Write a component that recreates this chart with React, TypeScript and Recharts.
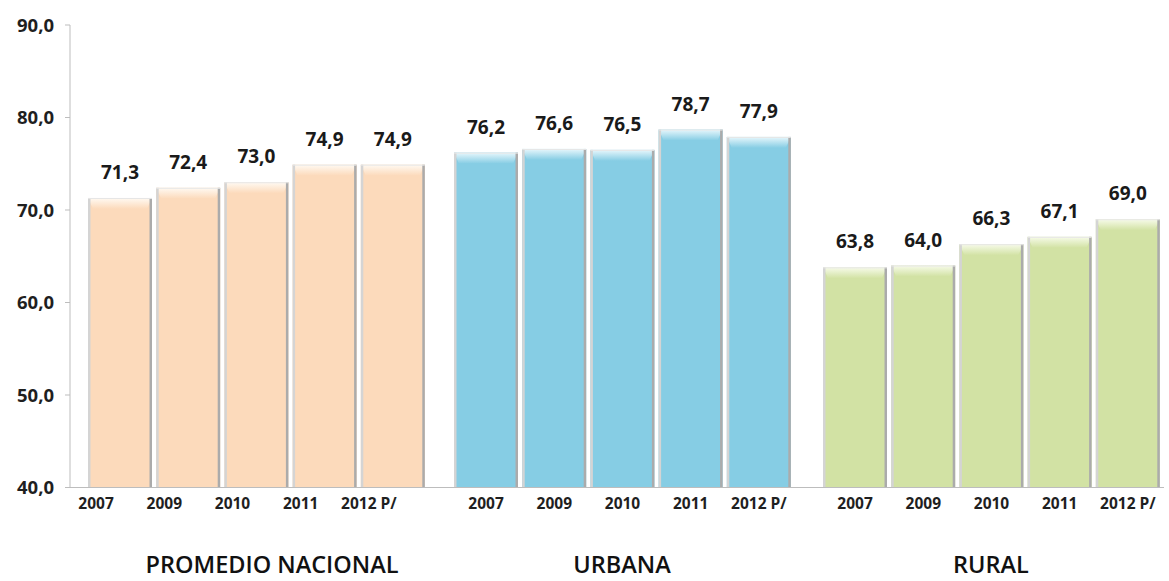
import React from "react";
import { BarChart, Bar, XAxis, YAxis, LabelList } from "recharts";

const categories = ["2007", "2009", "2010", "2011", "2012 P/"];
const nacional = [71.3, 72.4, 73.0, 74.9, 74.9];
const urbana = [76.2, 76.6, 76.5, 78.7, 77.9];
const rural = [63.8, 64.0, 66.3, 67.1, 69.0];
const yTicks = [40, 50, 60, 70, 80, 90];
const groupLabels = ["PROMEDIO NACIONAL", "URBANA", "RURAL"];

const FONT = "'Open Sans', 'DejaVu Sans', sans-serif";
const fmt = (v: number) => v.toFixed(1).replace(".", ",");

const toData = (vals: number[]) => categories.map((c, i) => ({ year: c, value: vals[i] }));

const makeShape = (id: string, color: string, light: string) => (props: any) => {
  const { x, y, width, height, index } = props;
  if (width == null || height == null || height <= 0) return null;
  const bev = Math.min(11, height);
  const gid = `bev-${id}-${index}`;
  return (
    <g>
      <defs>
        <linearGradient id={gid} x1="0" y1="0" x2="0" y2="1">
          <stop offset="0%" stopColor={light} stopOpacity={1} />
          <stop offset="100%" stopColor={color} stopOpacity={1} />
        </linearGradient>
      </defs>
      <rect x={x} y={y} width={width} height={height} fill={color} />
      <polygon
        points={`${x},${y} ${x + width},${y} ${x + width - 5},${y + bev} ${x + 5},${y + bev}`}
        fill={`url(#${gid})`}
      />
      <rect x={x} y={y} width={2.5} height={height} fill="#d4d4d4" />
      <rect x={x + width - 2.5} y={y} width={2.5} height={height} fill="#ababab" />
      <rect x={x} y={y} width={width} height={1} fill="#e6e6e6" />
    </g>
  );
};

const YearTick = (props: any) => {
  const { x, y, payload, dx } = props;
  return (
    <text
      x={x + (dx || 0)}
      y={y}
      dy={13}
      textAnchor="middle"
      fontFamily={FONT}
      fontWeight={700}
      fontSize={15.5}
      fill="#1f1f1f"
    >
      {payload.value}
    </text>
  );
};

type GroupProps = {
  id: string;
  left: number;
  width: number;
  vals: number[];
  color: string;
  light: string;
  showY: boolean;
  padL: number;
  padR: number;
  tickDx: number;
};

const Group = ({ id, left, width, vals, color, light, showY, padL, padR, tickDx }: GroupProps) => {
  const data = toData(vals);
  return (
    <div style={{ position: "absolute", left, top: 0 }}>
      <BarChart
        width={width}
        height={581}
        data={data}
        margin={{ top: 25, right: 0, left: 0, bottom: 63.5 }}
        barSize={64}
      >
        <XAxis
          dataKey="year"
          height={30}
          padding={{ left: padL, right: padR }}
          axisLine={{ stroke: "#bdbdbd", strokeWidth: 1 }}
          tickLine={false}
          tickSize={0}
          tickMargin={8}
          interval={0}
          tick={<YearTick dx={tickDx} />}
        />
        <YAxis
          hide={!showY}
          width={70}
          domain={[40, 90]}
          ticks={yTicks}
          tickFormatter={fmt}
          axisLine={{ stroke: "#bdbdbd", strokeWidth: 1 }}
          tickLine={{ stroke: "#bdbdbd" }}
          tickSize={5}
          tickMargin={11}
          tick={{ fontFamily: FONT, fontWeight: 700, fontSize: 18.5, fill: "#1f1f1f" }}
        />
        <Bar dataKey="value" isAnimationActive={false} shape={makeShape(id, color, light)}>
          <LabelList
            dataKey="value"
            position="top"
            offset={19}
            formatter={fmt}
            style={{ fontFamily: FONT, fontWeight: 700, fontSize: 19, fill: "#1a1a1a" }}
          />
        </Bar>
      </BarChart>
    </div>
  );
};

const groupLabelStyle: React.CSSProperties = {
  position: "absolute",
  top: 548,
  fontFamily: FONT,
  fontWeight: 600,
  fontSize: 23.5,
  color: "#111",
  whiteSpace: "nowrap",
  transform: "translateX(-50%)",
};

export default function App() {
  return (
    <div
      style={{
        position: "absolute",
        left: 0,
        top: 0,
        width: 1169,
        height: 581,
        background: "#ffffff",
        overflow: "hidden",
      }}
    >
      <Group id="n" left={0} width={440} vals={nacional} color="#fcdabb" light="#fffaf3" showY padL={16} padR={13} tickDx={-24} />
      <Group id="u" left={440} width={367} vals={urbana} color="#86cde4" light="#e8f7fc" showY={false} padL={12} padR={14} tickDx={0} />
      <Group id="r" left={807} width={357} vals={rural} color="#d2e2a4" light="#f7fbea" showY={false} padL={14} padR={2} tickDx={0} />
      <div style={{ ...groupLabelStyle, left: 272 }}>{groupLabels[0]}</div>
      <div style={{ ...groupLabelStyle, left: 622 }}>{groupLabels[1]}</div>
      <div style={{ ...groupLabelStyle, left: 991 }}>{groupLabels[2]}</div>
    </div>
  );
}
